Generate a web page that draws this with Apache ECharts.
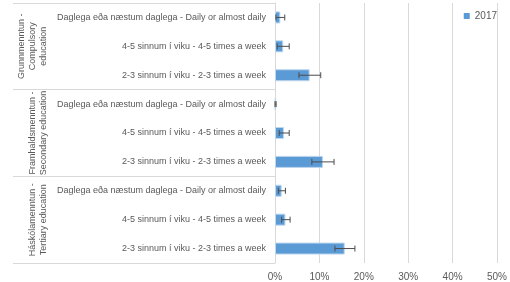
<!DOCTYPE html>
<html>
<head>
<meta charset="utf-8">
<script src="https://cdn.jsdelivr.net/npm/echarts@6/dist/echarts.min.js"></script>
<style>
	html, body { margin: 0; padding: 0; background: #fff; }
	#chart { width: 510px; height: 282px; }
</style>
</head>
<body>
<div id="chart"></div>
<script>
	// sub-categories, top to bottom
	var categories = [
		'Daglega eða næstum daglega - Daily or almost daily',
		'4-5 sinnum í viku - 4-5 times a week',
		'2-3 sinnum í viku - 2-3 times a week',
		'Daglega eða næstum daglega - Daily or almost daily',
		'4-5 sinnum í viku - 4-5 times a week',
		'2-3 sinnum í viku - 2-3 times a week',
		'Daglega eða næstum daglega - Daily or almost daily',
		'4-5 sinnum í viku - 4-5 times a week',
		'2-3 sinnum í viku - 2-3 times a week'
	];
	var groups = [
		'Grunnmenntun -\nCompulsory\neducation',
		'Framhaldsmenntun -\nSecondary education',
		'Háskólamenntun -\nTertiary education'
	];
	var seriesName = '2017';
	// percent
	var values = [1.2, 1.85, 7.8, 0.1, 2.0, 10.8, 1.5, 2.35, 15.7];
	var errLow = [0.2, 0.5, 5.4, 0.0, 0.95, 8.3, 0.75, 1.5, 13.5];
	var errHigh = [2.2, 3.2, 10.3, 0.25, 3.2, 13.3, 2.35, 3.4, 18.0];

	var textColor = '#595959';
	var lineColor = '#d9d9d9';
	var font = 'Liberation Sans';

	var errData = [];
	for (var i = 0; i < values.length; i++) {
		errData.push([errLow[i], errHigh[i], i]);
	}

	var chart = echarts.init(document.getElementById('chart'));
	chart.setOption({
		animation: false,
		grid: { left: 275, right: 9, top: 3, bottom: 19 },
		legend: {
			data: [seriesName],
			right: 8,
			top: 6,
			icon: 'rect',
			itemWidth: 6,
			itemHeight: 6,
			itemGap: 4,
			itemStyle: { borderWidth: 0 },
			textStyle: { color: textColor, fontSize: 10, fontFamily: font }
		},
		xAxis: {
			type: 'value',
			min: 0,
			max: 50,
			interval: 10,
			axisLine: { show: false },
			axisTick: { show: false },
			splitLine: { lineStyle: { color: lineColor } },
			axisLabel: {
				formatter: '{value}%',
				color: textColor,
				fontSize: 10,
				fontFamily: font,
				margin: 9
			}
		},
		yAxis: [{
			type: 'category',
			data: categories,
			inverse: true,
			axisLine: { lineStyle: { color: lineColor } },
			axisTick: { show: false },
			axisLabel: {
				color: textColor,
				fontSize: 9,
				fontFamily: font,
				margin: 9
			}
		}, {
			type: 'category',
			data: groups,
			inverse: true,
			position: 'left',
			offset: 262,
			axisLine: { show: false },
			axisTick: {
				show: true,
				inside: true,
				length: 262,
				interval: 0,
				lineStyle: { color: lineColor }
			},
			axisLabel: {
				inside: true,
				rotate: 90,
				interval: 0,
				margin: 36,
				align: 'center',
				verticalAlign: 'bottom',
				lineHeight: 11,
				color: textColor,
				fontSize: 9,
				fontFamily: font
			}
		}],
		series: [{
			name: seriesName,
			type: 'bar',
			yAxisIndex: 0,
			barWidth: 12,
			itemStyle: { color: '#5b9bd5', borderColor: '#bdd7ee', borderWidth: 1 },
			data: values
		}, {
			name: 'error',
			type: 'custom',
			yAxisIndex: 0,
			data: errData,
			encode: { x: [0, 1], y: 2 },
			z: 10,
			renderItem: function (params, api) {
				var idx = api.value(2);
				var lo = api.coord([api.value(0), idx]);
				var hi = api.coord([api.value(1), idx]);
				var h = 3;
				var style = { stroke: '#4d4d4d', lineWidth: 1 };
				return {
					type: 'group',
					children: [
						{ type: 'line', shape: { x1: lo[0], y1: lo[1], x2: hi[0], y2: hi[1] }, style: style },
						{ type: 'line', shape: { x1: lo[0], y1: lo[1] - h, x2: lo[0], y2: lo[1] + h }, style: style },
						{ type: 'line', shape: { x1: hi[0], y1: hi[1] - h, x2: hi[0], y2: hi[1] + h }, style: style }
					]
				};
			}
		}]
	});
</script>
</body>
</html>
